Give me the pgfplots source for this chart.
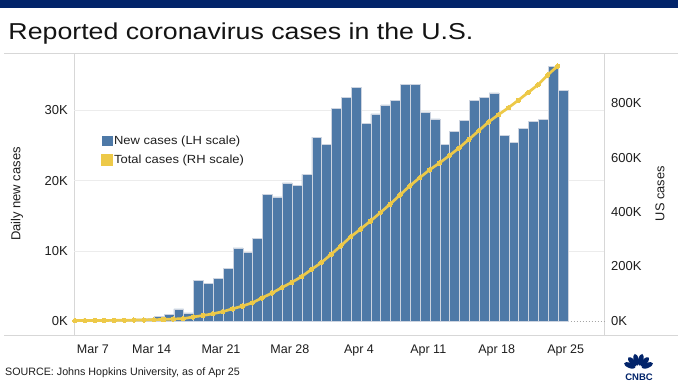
\documentclass[border=0pt]{standalone}
\usepackage{fontspec}
\setmainfont{Liberation Sans}
\newfontfamily\titlefont{Liberation Sans}[FakeStretch=1.162]
\newfontfamily\legfont{Liberation Sans}[FakeStretch=1.1]
\usepackage{pgfplots}
\pgfplotsset{compat=1.18}
\usepackage{pgfplotstable}
\definecolor{barblue}{RGB}{78,121,167}
\definecolor{barborder}{RGB}{205,212,224}
\definecolor{lineyellow}{RGB}{237,201,72}
\definecolor{navy}{RGB}{2,36,106}
\definecolor{framegray}{RGB}{215,215,215}
\definecolor{gridgray}{RGB}{236,236,236}
\definecolor{txt}{RGB}{30,30,30}

\pgfplotstableread{
d new
6 0.10
7 0.10
8 0.15
9 0.25
10 0.30
11 0.30
12 0.35
13 0.45
14 0.65
15 0.95
16 1.75
17 1.20
18 5.87
19 5.36
20 6.16
21 7.58
22 10.43
23 9.77
24 11.85
25 18.0
26 17.7
27 19.7
28 19.3
29 20.9
30 26.2
31 25.2
32 30.3
33 31.8
34 33.3
35 28.2
36 29.5
37 30.8
38 31.4
39 33.7
40 33.7
41 29.8
42 28.8
43 25.2
44 27.0
45 28.6
46 31.4
47 31.8
48 32.5
49 26.5
50 25.4
51 27.5
52 28.4
53 28.7
54 36.3
55 32.8
}\newcases

\pgfplotstableread{
d total
6 0.4
7 0.5
8 0.7
9 1.0
10 1.3
11 1.6
12 2.2
13 2.8
14 3.6
15 4.6
16 6.3
17 7.7
18 13.7
19 19.1
20 25.5
21 33.3
22 43.8
23 53.7
24 65.8
25 83.8
26 101.7
27 121.5
28 140.9
29 161.8
30 188.2
31 213.4
32 243.7
33 275.6
34 308.8
35 337.1
36 366.6
37 397.4
38 428.8
39 462.6
40 496.3
41 526.1
42 555.0
43 580.2
44 607.2
45 635.8
46 667.2
47 699.0
48 731.5
49 758.0
50 783.4
51 810.9
52 839.3
53 868.0
54 904.3
55 937.1
}\totals

\begin{document}
\begin{tikzpicture}
\fill[white] (0,0) rectangle (678bp,-381bp);
\path[use as bounding box] (0,0) rectangle (678bp,-381bp);
\fill[navy] (0,0) rectangle (678bp,-7.5bp);
\node[anchor=base west, inner sep=0pt, font=\titlefont\fontsize{23bp}{27bp}\selectfont, text=black!92] at (8.3bp,-39.3bp) {Reported coronavirus cases in the U.S.};
\draw[framegray, line width=1bp] (4bp,-53.3bp) -- (678bp,-53.3bp);
\draw[framegray, line width=1bp] (4bp,-335.5bp) -- (678bp,-335.5bp);
\draw[framegray, line width=1bp] (74bp,-53.3bp) -- (74bp,-335.5bp);
\draw[framegray, line width=1bp] (604bp,-53.3bp) -- (604bp,-335.5bp);

\begin{axis}[
  at={(74bp,-335bp)}, anchor=south west,
  width=530bp, height=282bp, scale only axis,
  xmin=5.36, xmax=59.16,
  ymin=-1.95, ymax=38.17,
  axis line style={draw=none},
  tick style={draw=none},
  ytick={10,20,30}, yticklabels={10K,20K,30K},
  extra y ticks={0}, extra y tick labels={0K},
  extra y tick style={grid style={dotted, gray!70, line width=0.8bp}},
  ymajorgrids, grid style={gridgray, line width=1bp},
  xtick={7.28,13.24,20.28,27.28,34.29,41.32,48.27,55.27},
  xticklabels={Mar 7,Mar 14,Mar 21,Mar 28,Apr 4,Apr 11,Apr 18,Apr 25},
  yticklabel style={anchor=east, inner sep=0pt, xshift=-6bp, text=txt, font=\fontsize{13bp}{15bp}\selectfont},
  xticklabel style={anchor=base, inner sep=0pt, yshift=-18.5bp, text=txt, font=\fontsize{12.5bp}{14bp}\selectfont},
]
\addplot[ybar, bar width=1, bar shift=0pt, fill=barblue, draw=barborder, line width=0.6bp] table[x=d, y=new] {\newcases};
\end{axis}

\begin{axis}[
  at={(74bp,-335bp)}, anchor=south west,
  width=530bp, height=282bp, scale only axis,
  xmin=5.36, xmax=59.16,
  ymin=-52.6, ymax=985,
  hide x axis,
  axis y line*=right,
  axis line style={draw=none},
  tick style={draw=none},
  ytick={0,200,400,600,800}, yticklabels={0K,200K,400K,600K,800K},
  yticklabel style={anchor=west, inner sep=0pt, xshift=7bp, text=txt, font=\fontsize{13bp}{15bp}\selectfont},
  legend style={at={(0.0504,0.7128)}, anchor=north west, draw=none, fill=none, inner sep=0pt, row sep=5.5bp,
    font=\legfont\fontsize{11.8bp}{14bp}\selectfont, text=txt,
    nodes={inner sep=1bp, text height=9bp, text depth=2.5bp}},
  legend cell align=left,
]
\addlegendimage{legend image code/.code={\fill[barblue] (0bp,-4.75bp) rectangle (9.5bp,4.75bp);}}
\addlegendentry{New cases (LH scale)}
\addplot[lineyellow, line width=2.7bp, mark=*, mark size=2.2bp, mark options={fill=lineyellow, draw=lineyellow, line width=0pt},
  legend image code/.code={\fill[lineyellow] (0bp,-4.75bp) rectangle (9.5bp,4.75bp);}]
  table[x expr=\thisrow{d}-0.55, y=total] {\totals};
\addlegendentry{Total cases (RH scale)}
\end{axis}

\node[rotate=90, inner sep=0pt, text=txt, font=\fontsize{13bp}{15bp}\selectfont] at (17bp,-194bp) {Daily new cases};
\node[rotate=90, inner sep=0pt, text=txt, font=\fontsize{12.8bp}{15bp}\selectfont] at (660bp,-193.7bp) {US cases};
\node[anchor=base west, inner sep=0pt, text=txt, font=\fontsize{10.7bp}{12bp}\selectfont] at (5bp,-375.5bp) {SOURCE: Johns Hopkins University, as of Apr 25};

\foreach \a in {22,49,76,104,131,158} {
  \fill[navy, rotate around={\a:(638.5bp,-369bp)}] (648bp,-369bp) ellipse [x radius=6bp, y radius=2.6bp];
}
\node[anchor=base, inner sep=0pt, text=navy, font=\bfseries\fontsize{9.5bp}{10bp}\selectfont] at (639bp,-380.5bp) {CNBC};
\end{tikzpicture}
\end{document}
